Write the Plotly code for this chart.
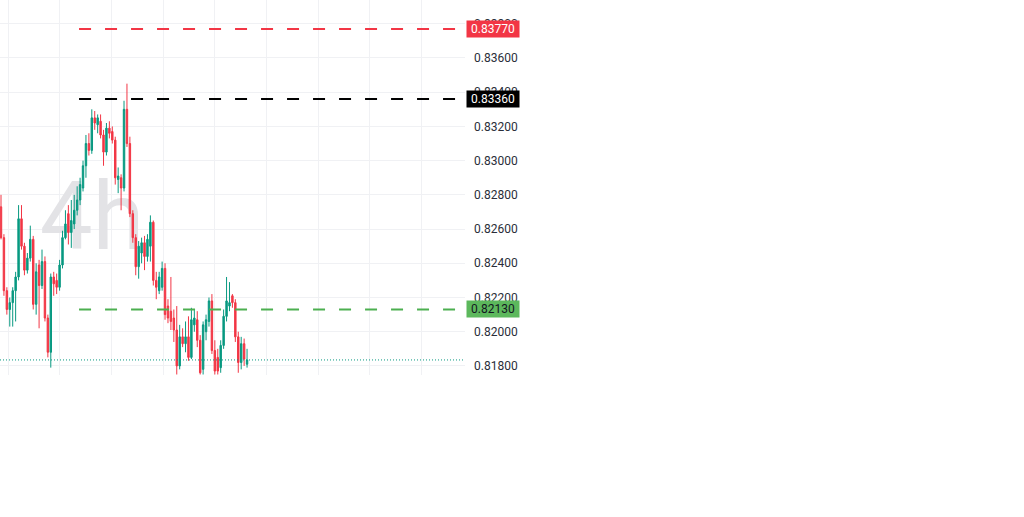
import plotly.graph_objects as go

# ---- data ----
opens = [0.8273, 0.8255, 0.8224, 0.8213, 0.8217, 0.8224, 0.8232, 0.8266, 0.8250, 0.8236,
         0.8243, 0.8254, 0.8216, 0.8239, 0.8227, 0.8241, 0.8208, 0.8188, 0.8232, 0.8230,
         0.8226, 0.8239, 0.8255, 0.8269, 0.8258, 0.8263, 0.8271, 0.8277, 0.8284, 0.8297,
         0.8310, 0.8306, 0.8325, 0.8321, 0.8323, 0.8315, 0.8305, 0.8319, 0.8317, 0.8312,
         0.8289, 0.8290, 0.8284, 0.8330, 0.8310, 0.8269, 0.8255, 0.8238, 0.8246, 0.8252,
         0.8244, 0.8250, 0.8264, 0.8230, 0.8224, 0.8226, 0.8237, 0.8215, 0.8212, 0.8208,
         0.8201, 0.8180, 0.8197, 0.8193, 0.8197, 0.8185, 0.8204, 0.8207, 0.8195, 0.8178,
         0.8200, 0.8206, 0.8218, 0.8189, 0.8185, 0.8179, 0.8192, 0.8209, 0.8215, 0.8221,
         0.8217, 0.8197, 0.8182, 0.8193, 0.8181]
highs = [0.8280, 0.8257, 0.8226, 0.8220, 0.8226, 0.8235, 0.8274, 0.8274, 0.8252, 0.8246,
         0.8262, 0.8256, 0.8240, 0.8242, 0.8248, 0.8244, 0.8210, 0.8234, 0.8235, 0.8234,
         0.8242, 0.8259, 0.8271, 0.8274, 0.8277, 0.8280, 0.8285, 0.8290, 0.8300, 0.8315,
         0.8316, 0.8330, 0.8329, 0.8327, 0.8327, 0.8318, 0.8322, 0.8323, 0.8320, 0.8314,
         0.8296, 0.8292, 0.8335, 0.8345, 0.8314, 0.8271, 0.8257, 0.8253, 0.8255, 0.8256,
         0.8257, 0.8268, 0.8265, 0.8235, 0.8235, 0.8241, 0.8240, 0.8219, 0.8232, 0.8213,
         0.8215, 0.8204, 0.8202, 0.8206, 0.8209, 0.8214, 0.8213, 0.8212, 0.8198, 0.8206,
         0.8210, 0.8220, 0.8222, 0.8195, 0.8190, 0.8195, 0.8213, 0.8232, 0.8229, 0.8222,
         0.8219, 0.8200, 0.8197, 0.8196, 0.8190]
lows = [0.8254, 0.8221, 0.8210, 0.8203, 0.8203, 0.8206, 0.8230, 0.8248, 0.8233, 0.8234,
        0.8241, 0.8213, 0.8210, 0.8202, 0.8225, 0.8206, 0.8185, 0.8179, 0.8221, 0.8222,
        0.8224, 0.8237, 0.8254, 0.8251, 0.8249, 0.8260, 0.8268, 0.8274, 0.8282, 0.8290,
        0.8303, 0.8304, 0.8318, 0.8316, 0.8313, 0.8297, 0.8303, 0.8313, 0.8310, 0.8286,
        0.8281, 0.8271, 0.8282, 0.8308, 0.8267, 0.8252, 0.8233, 0.8231, 0.8240, 0.8236,
        0.8241, 0.8241, 0.8227, 0.8219, 0.8222, 0.8224, 0.8207, 0.8205, 0.8201, 0.8194,
        0.8175, 0.8178, 0.8191, 0.8188, 0.8183, 0.8184, 0.8200, 0.8191, 0.8175, 0.8175,
        0.8195, 0.8203, 0.8187, 0.8175, 0.8175, 0.8176, 0.8190, 0.8206, 0.8212, 0.8214,
        0.8194, 0.8176, 0.8178, 0.8180, 0.8179]
closes = [0.8255, 0.8224, 0.8213, 0.8217, 0.8224, 0.8232, 0.8266, 0.8250, 0.8236, 0.8243,
          0.8254, 0.8216, 0.8235, 0.8227, 0.8241, 0.8208, 0.8188, 0.8232, 0.8228, 0.8226,
          0.8239, 0.8255, 0.8263, 0.8258, 0.8265, 0.8271, 0.8277, 0.8286, 0.8297, 0.8310,
          0.8306, 0.8325, 0.8322, 0.8325, 0.8315, 0.8305, 0.8319, 0.8316, 0.8312, 0.8290,
          0.8291, 0.8284, 0.8330, 0.8310, 0.8269, 0.8255, 0.8238, 0.8250, 0.8252, 0.8244,
          0.8254, 0.8264, 0.8230, 0.8226, 0.8232, 0.8237, 0.8210, 0.8208, 0.8206, 0.8201,
          0.8180, 0.8197, 0.8193, 0.8197, 0.8185, 0.8207, 0.8208, 0.8195, 0.8176, 0.8204,
          0.8207, 0.8218, 0.8189, 0.8177, 0.8177, 0.8192, 0.8209, 0.8218, 0.8217, 0.8217,
          0.8197, 0.8182, 0.8193, 0.8184, 0.81835]
bars = list(range(len(opens)))

level_prices = [0.8377, 0.8336, 0.8213]
level_labels = ["0.83770", "0.83360", "0.82130"]
level_colors = ["#f23645", "#000000", "#4caf50"]
badge_colors = ["#f23645", "#000000", "#5cb85c"]
badge_text_colors = ["#ffffff", "#ffffff", "#131722"]
current_price = 0.81835
watermark = "4h"

UP = "#089981"
DOWN = "#f23645"

fig = go.Figure()

# watermark on base axes (behind candles)
fig.add_trace(go.Scatter(
    x=[0.198], y=[0.40], mode="text", text=[watermark],
    textfont=dict(family="Roboto", size=94, color="#e3e3e6"),
    xaxis="x", yaxis="y", hoverinfo="skip", showlegend=False))

fig.add_trace(go.Candlestick(
    x=bars, open=opens, high=highs, low=lows, close=closes,
    xaxis="x2", yaxis="y2",
    increasing=dict(line=dict(color=UP, width=1), fillcolor=UP),
    decreasing=dict(line=dict(color=DOWN, width=1), fillcolor=DOWN),
    whiskerwidth=0, showlegend=False))

shapes = []
for p, col in zip(level_prices, level_colors):
    shapes.append(dict(type="line", xref="paper", yref="y2", x0=0.17, x1=1.0,
                       y0=p, y1=p, line=dict(color=col, width=2, dash="12px,14px")))
shapes.append(dict(type="line", xref="paper", yref="y2", x0=0, x1=1.0,
                   y0=current_price, y1=current_price,
                   line=dict(color=UP, width=1, dash="1px,2px")))

annotations = []
for p, lab, bc, tc in zip(level_prices, level_labels, badge_colors, badge_text_colors):
    annotations.append(dict(xref="paper", yref="y2", x=1.0, y=p, xanchor="left",
                            yanchor="middle", xshift=1, text=lab, showarrow=False,
                            bgcolor=bc, width=50, height=14, borderpad=1,
                            font=dict(family="Roboto", size=12, color=tc)))

GRID = "#f0f1f4"
fig.update_layout(
    width=1024, height=517,
    margin=dict(l=0, r=559, t=0, b=142),
    paper_bgcolor="white", plot_bgcolor="white",
    showlegend=False,
    xaxis=dict(range=[0, 1], visible=False, fixedrange=True),
    yaxis=dict(range=[0, 1], visible=False, fixedrange=True),
    xaxis2=dict(overlaying="x", anchor="y2", range=[-0.34, 158.4],
                showticklabels=False, showgrid=True, gridcolor=GRID, gridwidth=1,
                tick0=2.39, dtick=17.65, zeroline=False, showline=False,
                rangeslider=dict(visible=False)),
    yaxis2=dict(overlaying="y", anchor="x2", side="right",
                range=[0.81747, 0.83939], tick0=0.818, dtick=0.002,
                tickformat=".5f", showgrid=True, gridcolor=GRID, gridwidth=1,
                zeroline=False, showline=False, ticks="", ticklabelstandoff=8,
                tickfont=dict(family="Roboto", size=12, color="#2a2e39")),
    shapes=shapes,
    annotations=annotations,
)

fig.write_html("out.html", config={"displayModeBar": False},
               post_script="document.body.style.margin='0';")
